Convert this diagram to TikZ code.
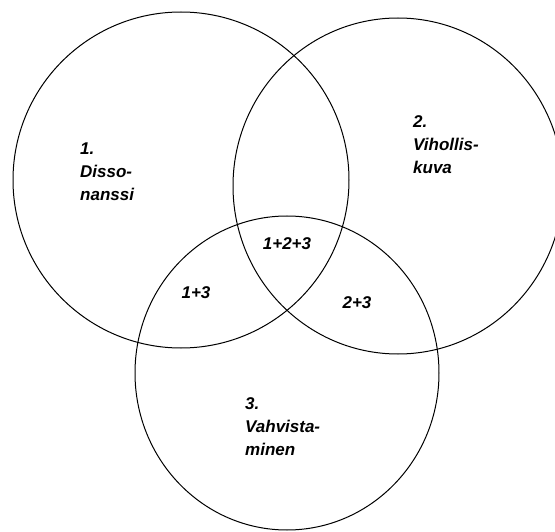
\documentclass[tikz,border=0pt]{standalone}
\usepackage{fontspec}
\setmainfont{Liberation Sans}
\begin{document}
\begin{tikzpicture}[x=1pt,y=-1pt,
  ring/.style={draw=black,line width=1pt},
  lbl/.style={font=\fontsize{17}{23}\selectfont\bfseries\itshape,inner sep=0pt,align=left,anchor=north west},
  mid/.style={font=\fontsize{17}{23}\selectfont\bfseries\itshape,inner sep=0pt}]
\useasboundingbox (0,0) rectangle (555,532);
\clip (0,0) rectangle (555,532);
\fill[white] (0,0) rectangle (555,532);
\draw[ring] (181,180) ellipse [x radius=168, y radius=168];
\draw[ring] (398,186) ellipse [x radius=165, y radius=168];
\draw[ring] (287,373) ellipse [x radius=152, y radius=157];
\node[lbl] (l1) at (80,143) {1.\\Disso-\\nanssi};
\node[lbl] (l2) at (413,115) {2.\\Vihollis-\\kuva};
\node[lbl] (l3) at (245,397) {3.\\Vahvista-\\minen};
\node[mid] (l123) at (287,244) {1+2+3};
\node[mid] (l13) at (196,293) {1+3};
\node[mid] (l23) at (357,303) {2+3};
\end{tikzpicture}
\end{document}
